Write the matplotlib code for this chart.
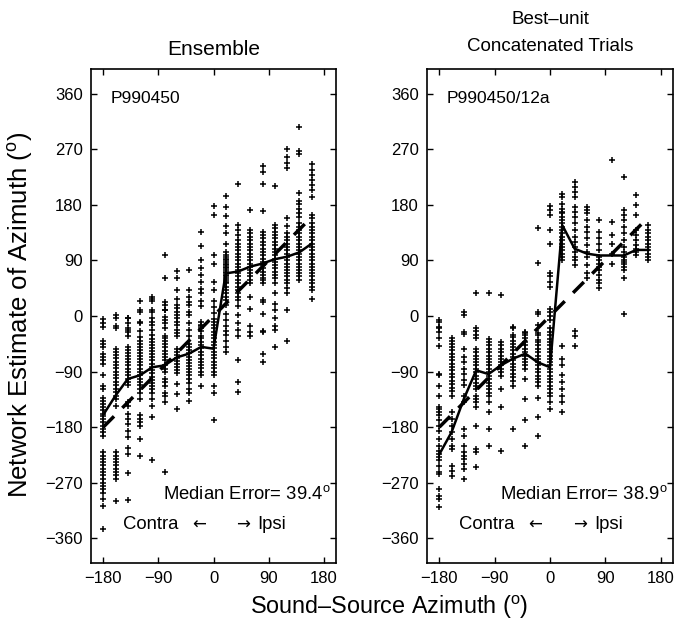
import matplotlib
matplotlib.use('Agg')
import matplotlib.pyplot as plt

plt.rcParams['font.family'] = ['Liberation Sans', 'DejaVu Sans']
plt.rcParams['mathtext.fontset'] = 'custom'
plt.rcParams['mathtext.rm'] = 'Liberation Sans'
plt.rcParams['mathtext.it'] = 'Liberation Sans:italic'

# Sound-source azimuths (deg)
azimuths = [-180, -160, -140, -120, -100, -80, -60, -40, -20,
            0, 20, 40, 60, 80, 100, 120, 140, 160]

# Ensemble: network estimates per azimuth
ens_points = [
    [-5, -12, -18, -40, -45, -50, -61, -67, -72, -77, -96, -114, -119, -132, -137, -142, -148, -153,
     -158, -162, -167, -172, -178, -183, -188, -194, -221, -226, -232, -237, -242, -248, -253, -258,
     -264, -270, -275, -280, -286, -297, -307, -345],
    [-4, 1, -17, -20, -53, -58, -63, -68, -74, -79, -85, -90, -96, -101, -107, -112, -118, -123, -129,
     -134, -145, -221, -226, -232, -237, -242, -248, -253, -258, -264, -299],
    [-4, -12, -23, -3, -20, -26, -32, -50, -55, -60, -65, -70, -75, -80, -86, -91, -96, -102, -107,
     -112, -140, -146, -159, -167, -175, -186, -196, -213, -224, -254, -298],
    [25, 9, -12, -24, 6, -10, -34, -40, -45, -50, -55, -60, -65, -70, -75, -80, -86, -91, -96, -102,
     -107, -112, -118, -124, -134, -161, -167, -172, -178, -199, -226],
    [30, 25, 7, -4, -15, -23, -31, 28, 9, -10, -37, -42, -47, -52, -57, -62, -67, -72, -77, -82, -88,
     -93, -98, -103, -108, -113, -118, -124, -134, -145, -164, -234],
    [98, 61, 18, 10, -1, -12, -20, -32, 22, 9, -7, -36, -41, -46, -51, -56, -61, -66, -71, -80, -86,
     -91, -102, -107, -113, -124, -129, -140, -253],
    [73, 61, 42, 28, 18, 13, 7, 2, -4, -9, -15, -23, -28, -33, -53, -58, -63, -68, -73, -78, -83, -88,
     -93, -110, -126, -150],
    [74, 42, 30, 18, 2, -12, -23, -33, 23, 7, -45, -50, -55, -60, -66, -71, -76, -81, -86, -91, -96,
     -102, -108, -118, -124, -137],
    [136, 114, 90, 77, 66, 55, 44, 37, 25, 17, -15, -17, -25, -33, -10, -20, -36, -42, -47, -52, -58,
     -63, -69, -74, -80, -85, -91, -96, -113],
    [178, 163, 98, 85, 55, 42, 25, 15, 5, -5, -10, -15, -20, -26, -31, -36, -42, -47, -52, -58, -63,
     -68, -74, -79, -85, -90, -96, -113, -124, -169],
    [194, 177, 162, 145, 134, 117, 104, 99, 96, 93, 90, 88, 85, 82, 80, 77, 74, 72, 69, 66, 64, 61,
     58, 55, 53, 47, 42, 37, 31, 26, 18, 4, -7, -17, -25, -30, -40, -50, -58],
    [213, 147, 139, 131, 123, 117, 112, 107, 101, 96, 90, 85, 80, 74, 69, 64, 58, 53, 47, 42, 37, 31,
     26, 17, 1, -12, -23, -33, -72, -107, -123],
    [171, 140, 134, 128, 123, 117, 112, 107, 101, 96, 90, 85, 80, 74, 69, 64, 58, 53, 31, 11, -17,
     -26, -33],
    [243, 233, 214, 170, 136, 131, 126, 120, 115, 109, 104, 99, 93, 88, 82, 77, 72, 66, 61, 58, 53,
     26, 23, 4, -25, -26, -61, -75],
    [210, 147, 142, 136, 131, 126, 120, 115, 109, 104, 99, 93, 88, 82, 77, 72, 66, 61, 53, 37, 20, 9,
     -4, -16, -23, -50],
    [271, 258, 247, 239, 158, 145, 134, 128, 123, 117, 112, 107, 101, 96, 90, 85, 80, 74, 69, 64, 58,
     53, 45, 37, 9, -40],
    [306, 268, 262, 199, 187, 182, 174, 166, 161, 150, 144, 139, 134, 128, 123, 117, 112, 107, 101, 96,
     90, 85, 80, 74, 69, 64, 58],
    [246, 236, 228, 220, 212, 204, 193, 163, 158, 150, 144, 139, 134, 128, 123, 117, 112, 107, 101, 96,
     90, 85, 80, 74, 69, 64, 58, 53, 47, 42, 28],
]
ens_line = [-160, -129, -102, -96, -83, -80, -67, -61, -50, -53,
            69, 72, 80, 85, 92, 96, 103, 117]

# Best-unit, concatenated trials
bu_points = [
    [-9, -20, -36, -7, -18, -26, -48, -94, -96, -113, -129, -148, -150, -156, -161, -169, -178, -186,
     -199, -210, -218, -224, -229, -234, -243, -253, -256, -280, -291, -297, -310],
    [-36, -40, -45, -50, -55, -61, -66, -72, -77, -83, -88, -94, -99, -105, -110, -116, -121, -129,
     -156, -167, -178, -188, -199, -210, -216, -243, -251, -259],
    [2, -29, 6, -26, -53, -67, -75, -86, -94, -104, -112, -129, -140, -183, -194, -210, -221, -227,
     -232, -240, -248, -264],
    [37, -25, -36, -20, -31, -53, -58, -64, -69, -75, -80, -86, -91, -97, -102, -108, -113, -118,
     -129, -134, -140, -148, -178, -215, -221, -245],
    [37, -37, -42, -47, -53, -58, -64, -69, -75, -80, -86, -91, -97, -102, -108, -113, -118, -124,
     -129, -140, -156, -183, -210],
    [34, -42, -47, -53, -58, -64, -69, -75, -80, -86, -91, -97, -118, -148, -218],
    [-20, -31, -18, -34, -40, -45, -50, -55, -61, -66, -72, -77, -83, -88, -94, -99, -105, -113, -183],
    [-28, -36, -26, -31, -42, -47, -53, -58, -64, -69, -75, -80, -86, -102, -134, -169, -210],
    [142, 86, 4, -15, -28, -39, 6, -31, -42, -47, -53, -58, -64, -69, -75, -80, -86, -91, -97, -102,
     -107, -113, -132, -164, -194],
    [178, 171, 164, 140, 116, 69, 64, 55, 47, 12, 6, 0, -6, -20, -26, -31, -37, -42, -47, -53, -58,
     -64, -69, -75, -80, -86, -91, -97, -102, -107, -113, -118, -124, -129, -140, -150],
    [198, 193, 182, 174, 169, 166, 161, 155, 150, 144, 139, 134, 128, 123, 117, 112, 107, 101, 96, 90,
     -48, -69, -80, -96, -107, -118, -129, -140, -156],
    [217, 209, 201, 193, 177, 169, 161, 150, 139, 128, 120, 112, 104, 96, 90, 82, -25, -33, -48],
    [177, 171, 166, 155, 144, 136, 126, 115, 104, 96, 82, 69, 61],
    [155, 136, 126, 117, 107, 96, 90, 85, 80, 74, 66, 58, 53, 45],
    [252, 152, 131, 117, 101, 85],
    [225, 171, 163, 155, 144, 134, 123, 112, 104, 96, 90, 88, 85, 80, 74, 61, 4],
    [196, 179, 163, 139, 131, 123, 115, 109, 104, 99],
    [147, 139, 134, 128, 123, 117, 112, 107, 101, 96, 90],
]
bu_line = [-224, -188, -134, -88, -94, -80, -69, -61, -75, -83,
           147, 109, 101, 98, 98, 98, 107, 107]

yticks = [-360, -270, -180, -90, 0, 90, 180, 270, 360]
xticks = [-180, -90, 0, 90, 180]

W, H = 679, 633
fig = plt.figure(figsize=(W / 100, H / 100), dpi=100)
ax1 = fig.add_axes([91 / W, 70 / H, 245 / W, 494 / H])
ax2 = fig.add_axes([427 / W, 70 / H, 246 / W, 494 / H])

DEG = '$^{\\mathrm{o}}$'


def draw(ax, pts, line, tag, err):
    for az, vals in zip(azimuths, pts):
        ax.scatter([az] * len(vals), vals, marker='+', s=20, c='black', linewidths=1.1, zorder=2)
    ax.plot(azimuths, line, color='black', lw=1.8, zorder=3)
    ax.plot(azimuths, azimuths, color='black', lw=2.5, dashes=(4.4, 3.4), zorder=3)
    ax.set_xlim(-200, 200)
    ax.set_ylim(-400, 400)
    ax.set_xticks(xticks)
    ax.set_yticks(yticks)
    ax.tick_params(direction='in', top=True, right=True, length=4, width=1.0,
                   labelsize=12, pad=6)
    for s in ax.spines.values():
        s.set_linewidth(1.2)
    ax.text(-168, 352, tag, fontsize=12.5, ha='left', va='center')
    ax.text(192, -288, 'Median Error= ' + err + DEG, fontsize=13.3,
            ha='right', va='center')
    ax.text(-148, -338, 'Contra', fontsize=13.3, ha='left', va='center')
    ax.text(-24, -338, '\u2190', fontsize=12, ha='center', va='center',
            family=['DejaVu Sans'])
    ax.text(48, -338, '\u2192', fontsize=12, ha='center', va='center',
            family=['DejaVu Sans'])
    ax.text(72, -338, 'Ipsi', fontsize=13.3, ha='left', va='center')


draw(ax1, ens_points, ens_line, 'P990450', '39.4')
draw(ax2, bu_points, bu_line, 'P990450/12a', '38.9')
ax1.set_title('Ensemble', fontsize=15, pad=10)
ax2.set_title('Best\u2013unit\nConcatenated Trials', fontsize=13.5, pad=13, linespacing=1.75)

fig.text(21 / W, 1 - 315 / H, 'Network Estimate of Azimuth (' + DEG + ')', rotation=90,
         ha='center', va='center', fontsize=18.5)
fig.text(389 / W, 1 - 607 / H, 'Sound\u2013Source Azimuth (' + DEG + ')',
         ha='center', va='center', fontsize=16.8)

fig.savefig('out.png', dpi=100)
